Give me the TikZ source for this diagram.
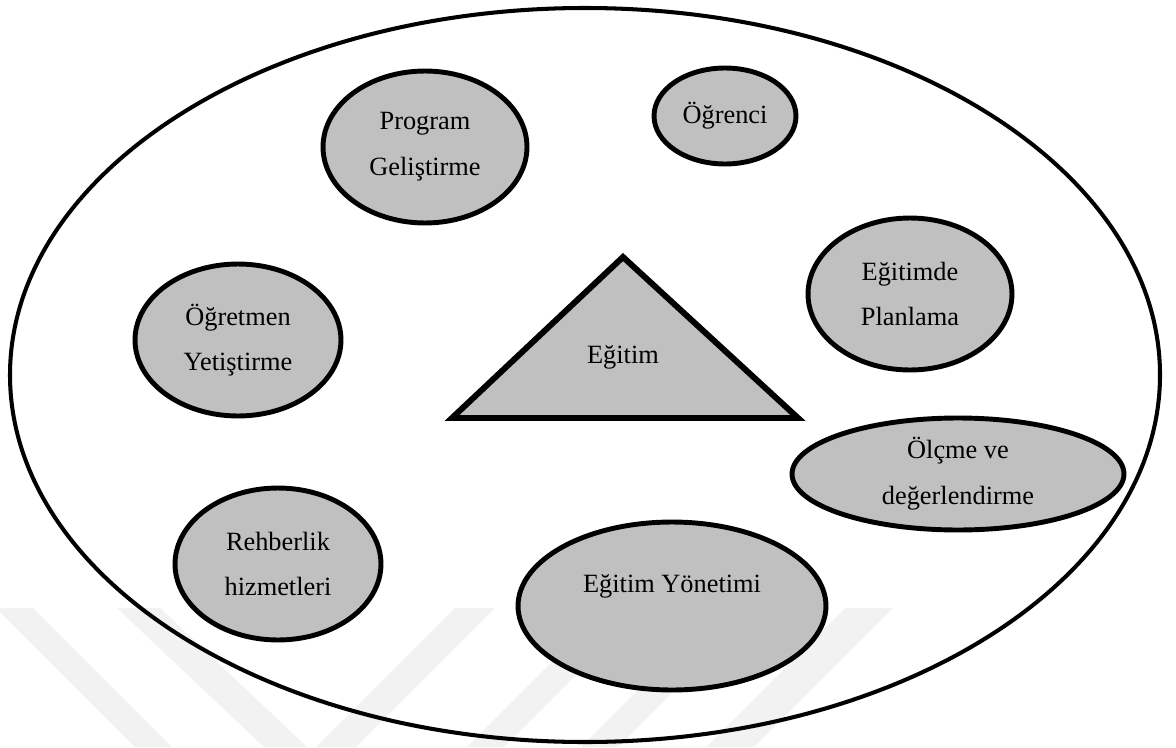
\documentclass[tikz,border=0pt]{standalone}
\usepackage{fontspec}
\setmainfont{Liberation Serif}
\usetikzlibrary{shapes.geometric}

\begin{document}
\begin{tikzpicture}[
  x=0.02cm, y=-0.02cm,
  bubble/.style={ellipse, draw, line width=2.8pt, fill=boxgray, inner sep=0pt,
    align=center, font=\fontsize{15}{26}\selectfont},
  wmband/.style={fill=black!5, draw=none},
]
  \definecolor{boxgray}{RGB}{192,192,192}
  \useasboundingbox (0,0) rectangle (1176,747);
  \fill[white] (0,0) rectangle (1176,747);

  \fill[wmband] (-4,608) -- (33,608) -- (172,747) -- (135,747) -- cycle;
  \fill[wmband] (117,608) -- (160,608) -- (307,747) -- (264,747) -- cycle;
  \fill[wmband] (455,608) -- (495,608) -- (356,747) -- (316,747) -- cycle;
  \fill[wmband] (606,608) -- (643,608) -- (504,747) -- (467,747) -- cycle;
  \fill[wmband] (720,608) -- (757,608) -- (618,747) -- (581,747) -- cycle;
  \fill[wmband] (845,608) -- (893,608) -- (754,747) -- (706,747) -- cycle;

  \draw[line width=2.3pt] (585,375) ellipse [x radius=575, y radius=367];

  \node[bubble, minimum width=4.08cm, minimum height=3.04cm] (prog) at (425,147) {Program\\Geliştirme};
  \node[bubble, minimum width=2.84cm, minimum height=1.92cm] (ogrenci) at (725,116) {Öğrenci};
  \node[bubble, minimum width=4.08cm, minimum height=3.04cm] (plan) at (910,294) {Eğitimde\\Planlama};
  \node[bubble, minimum width=4.12cm, minimum height=3.04cm] (ogretmen) at (238,340) {Öğretmen\\Yetiştirme};
  \node[bubble, minimum width=6.64cm, minimum height=2.24cm] (olcme) at (958,474) {Ölçme ve\\değerlendirme};
  \node[bubble, minimum width=4.12cm, minimum height=3.04cm] (rehber) at (278,564) {Rehberlik\\hizmetleri};
  \node[bubble, minimum width=6.16cm, minimum height=3.36cm] (yonetim) at (672,606) {Eğitim Yönetimi\\\mbox{}};

  \coordinate (T) at (623,257);
  \coordinate (L) at (452,418);
  \coordinate (R) at (798,418);
  \filldraw[fill=boxgray, line width=3.4pt] (T) -- (L) -- (R) -- cycle;
  \node[font=\fontsize{15}{26}\selectfont] (egitim) at (623,357) {Eğitim};
\end{tikzpicture}
\end{document}
